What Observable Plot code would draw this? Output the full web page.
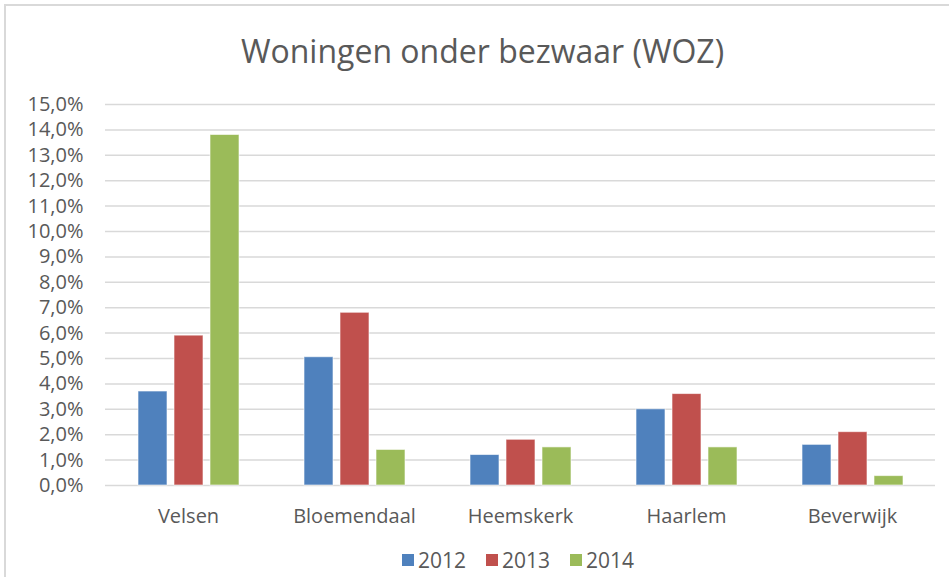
<!DOCTYPE html>
<html>
<head>
<meta charset="utf-8">
<script src="https://cdn.jsdelivr.net/npm/d3@7"></script>
<script src="https://cdn.jsdelivr.net/npm/@observablehq/plot@0.6"></script>
<style>
  html, body { margin: 0; padding: 0; background: #fff; }
  #frame { position: relative; width: 949px; height: 577px; overflow: hidden; font-family: "Open Sans", sans-serif; color: #595959; }
  #border { position: absolute; left: 4px; top: 4px; right: -10px; bottom: -10px; border-top: 2px solid #d9d9d9; border-left: 2px solid #d9d9d9; }
  #title { position: absolute; left: 0; width: 965px; top: 31px; text-align: center; font-size: 32px; line-height: 40px; color: #595959; }
  #chart { position: absolute; left: 0; top: 80px; }
  #legend { position: absolute; left: 402px; top: 545px; display: flex; gap: 20px; font-size: 21px; line-height: 30px; }
  .item { display: flex; align-items: center; }
  .sw { width: 12px; height: 12px; margin-right: 4px; }
</style>
</head>
<body>
<div id="frame">
  <div id="border"></div>
  <div id="title">Woningen onder bezwaar (WOZ)</div>
  <div id="chart"></div>
  <div id="legend"></div>
</div>
<script>
const cities = ["Velsen", "Bloemendaal", "Heemskerk", "Haarlem", "Beverwijk"];
const years = ["2012", "2013", "2014"];
const colors = ["#4f81bd", "#c0504d", "#9bbb59"];
const values2012 = [3.7, 5.05, 1.2, 3.0, 1.6];
const values2013 = [5.9, 6.8, 1.8, 3.6, 2.1];
const values2014 = [13.8, 1.4, 1.5, 1.5, 0.37];
const yTicks = d3.range(0, 16, 1);

const series = [values2012, values2013, values2014];
const data = [];
cities.forEach((c, i) => years.forEach((y, j) => data.push({city: c, year: y, value: series[j][i]})));

const fmt = d => d.toFixed(1).replace(".", ",") + "%";

const chart = Plot.plot({
  width: 949,
  height: 460,
  marginTop: 24,
  marginBottom: 55,
  marginLeft: 104,
  marginRight: 13,
  style: {fontFamily: "'Open Sans', sans-serif", color: "#595959", background: "transparent"},
  fx: {domain: cities, padding: 0, label: null},
  x: {domain: years, paddingInner: 0.2, paddingOuter: 0.85, axis: null},
  y: {domain: [0, 15], label: null},
  color: {domain: years, range: colors},
  marks: [
    Plot.ruleY(yTicks, {stroke: "#d9d9d9", strokeWidth: 1.5}),
    Plot.barY(data, {fx: "city", x: "year", y: "value", fill: "year", stroke: "#ffffff", strokeOpacity: 0.6, strokeWidth: 1}),
    Plot.axisY({ticks: yTicks, tickFormat: fmt, tickSize: 0, tickPadding: 22, fontSize: 20, fill: "#595959", label: null}),
    Plot.axisFx({anchor: "bottom", tickSize: 0, tickPadding: 23, fontSize: 20, fill: "#595959", label: null})
  ]
});
document.getElementById("chart").appendChild(chart);

const legend = document.getElementById("legend");
years.forEach((y, i) => {
  const item = document.createElement("div");
  item.className = "item";
  const sw = document.createElement("div");
  sw.className = "sw";
  sw.style.background = colors[i];
  const t = document.createElement("span");
  t.textContent = y;
  item.appendChild(sw);
  item.appendChild(t);
  legend.appendChild(item);
});
</script>
</body>
</html>
